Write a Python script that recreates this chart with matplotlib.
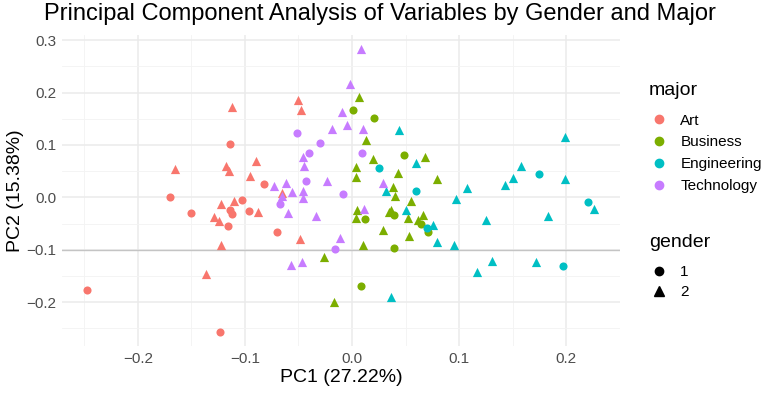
import matplotlib
matplotlib.use('Agg')
import matplotlib.pyplot as plt
from matplotlib.lines import Line2D

plt.rcParams['font.family'] = ['Liberation Sans', 'DejaVu Sans']

# PCA scores: (PC1, PC2) per major and gender
art_1_x = [-0.114, -0.170, -0.150, -0.103, -0.112, -0.114, -0.096, -0.116, -0.247, -0.123, -0.082, -0.070]
art_1_y = [0.101, 0.001, -0.029, -0.005, -0.032, -0.024, -0.026, -0.055, -0.176, -0.257, 0.025, -0.067]
art_2_x = [-0.112, -0.165, -0.118, -0.115, -0.090, -0.095, -0.122, -0.110, -0.088, -0.129, -0.124,
           -0.122, -0.136, -0.050, -0.048, -0.065, -0.049]
art_2_y = [0.173, 0.055, 0.060, 0.050, 0.070, 0.041, -0.012, -0.007, -0.028, -0.038, -0.045,
           -0.091, -0.147, 0.186, 0.166, 0.009, -0.080]

bus_1_x = [0.001, 0.021, 0.012, 0.008, 0.049, 0.039, 0.064, 0.071, 0.039]
bus_1_y = [0.166, 0.152, -0.042, -0.169, 0.081, -0.034, -0.050, -0.066, -0.096]
bus_2_x = [0.007, 0.013, 0.020, 0.004, 0.004, 0.005, 0.004, 0.035, 0.029, 0.010, -0.026, -0.017,
           0.068, 0.043, 0.079, 0.038, 0.040, 0.055, 0.036, 0.052, 0.066, 0.062, 0.053]
bus_2_y = [0.191, 0.109, 0.074, 0.058, 0.039, -0.024, -0.039, -0.028, -0.063, -0.091, -0.114, -0.199,
           0.077, 0.046, 0.035, 0.020, 0.002, -0.007, -0.024, -0.040, -0.034, -0.043, -0.074]

eng_1_x = [0.025, 0.175, 0.060, 0.070, 0.220, 0.197]
eng_1_y = [0.057, 0.044, 0.012, -0.059, -0.009, -0.131]
eng_2_x = [0.032, 0.036, 0.044, 0.199, 0.060, 0.158, 0.199, 0.150, 0.143, 0.107, 0.097, 0.050,
           0.076, 0.079, 0.095, 0.125, 0.183, 0.226, 0.131, 0.117, 0.172]
eng_2_y = [0.012, -0.190, 0.128, 0.115, 0.066, 0.060, 0.036, 0.037, 0.023, 0.017, -0.004, -0.024,
           -0.053, -0.085, -0.091, -0.044, -0.035, -0.023, -0.122, -0.143, -0.124]

tech_1_x = [-0.051, -0.030, -0.040, 0.009, -0.043, -0.067, -0.008, -0.016]
tech_1_y = [0.122, 0.103, 0.085, 0.085, 0.032, -0.012, 0.007, -0.099]
tech_2_x = [0.008, -0.002, -0.009, -0.005, -0.019, 0.010, -0.046, -0.045, -0.023, -0.073, -0.062,
            -0.056, -0.046, -0.046, -0.065, -0.060, -0.034, 0.029, 0.011, -0.011, -0.057, -0.047]
tech_2_y = [0.283, 0.217, 0.163, 0.138, 0.130, 0.130, 0.077, 0.060, 0.032, 0.021, 0.028,
            0.011, 0.012, -0.001, 0.003, -0.030, -0.036, 0.028, -0.023, -0.077, -0.129, -0.123]

majors = ['Art', 'Business', 'Engineering', 'Technology']
colors = ['#F8766D', '#7CAE00', '#00BFC4', '#C77CFF']
groups = [
    (art_1_x, art_1_y, art_2_x, art_2_y),
    (bus_1_x, bus_1_y, bus_2_x, bus_2_y),
    (eng_1_x, eng_1_y, eng_2_x, eng_2_y),
    (tech_1_x, tech_1_y, tech_2_x, tech_2_y),
]

fig = plt.figure(figsize=(7.67, 3.97), dpi=100)
ax = fig.add_axes([0.081, 0.128, 0.727, 0.784])

for (x1, y1, x2, y2), c in zip(groups, colors):
    ax.scatter(x1, y1, s=34, marker='o', color=c, linewidths=0, zorder=3)
    ax.scatter(x2, y2, s=44, marker='^', color=c, linewidths=0, zorder=3)

ax.margins(0.05)
ax.set_xticks([-0.2, -0.1, 0.0, 0.1, 0.2])
ax.set_xticklabels(['\u22120.2', '\u22120.1', '0.0', '0.1', '0.2'])
ax.set_yticks([-0.2, -0.1, 0.0, 0.1, 0.2, 0.3])
ax.set_yticklabels(['\u22120.2', '\u22120.1', '0.0', '0.1', '0.2', '0.3'])
ax.set_xticks([-0.25, -0.15, -0.05, 0.05, 0.15, 0.25], minor=True)
ax.set_yticks([-0.25, -0.15, -0.05, 0.05, 0.15, 0.25], minor=True)
ax.grid(True, which='major', color='#EBEBEB', linewidth=1.1, zorder=0)
ax.grid(True, which='minor', color='#F3F3F3', linewidth=0.6, zorder=0)
ax.axhline(-0.1, color='#C4C4C4', linewidth=1.0, zorder=1)
ax.set_axisbelow(True)
for sp in ax.spines.values():
    sp.set_visible(False)
ax.tick_params(which='both', length=0, labelsize=11, labelcolor='#4D4D4D', pad=4)

ax.set_xlabel('PC1 (27.22%)', fontsize=14, labelpad=2)
ax.set_ylabel('PC2 (15.38%)', fontsize=14, labelpad=2)
fig.text(0.058, 0.993, 'Principal Component Analysis of Variables by Gender and Major',
         fontsize=17, ha='left', va='top')

# legends: titles drawn separately so the gap under them can be set
fig.text(0.846, 0.773, 'major', fontsize=14, ha='left', va='center')
major_handles = [Line2D([], [], marker='o', linestyle='', color=c, markersize=6) for c in colors]
leg1 = fig.legend(major_handles, majors, loc='upper left',
                  bbox_to_anchor=(0.8475, 0.714), frameon=False, fontsize=11,
                  borderpad=0, borderaxespad=0, handletextpad=0.78, labelspacing=0.52,
                  handlelength=1.2)

fig.text(0.846, 0.390, 'gender', fontsize=14, ha='left', va='center')
gender_handles = [Line2D([], [], marker='o', linestyle='', color='black', markersize=6),
                  Line2D([], [], marker='^', linestyle='', color='black', markersize=7)]
leg2 = fig.legend(gender_handles, ['1', '2'], loc='upper left',
                  bbox_to_anchor=(0.8475, 0.332), frameon=False, fontsize=11,
                  borderpad=0, borderaxespad=0, handletextpad=0.78, labelspacing=0.4,
                  handlelength=1.2)

fig.savefig('out.png', dpi=100)
